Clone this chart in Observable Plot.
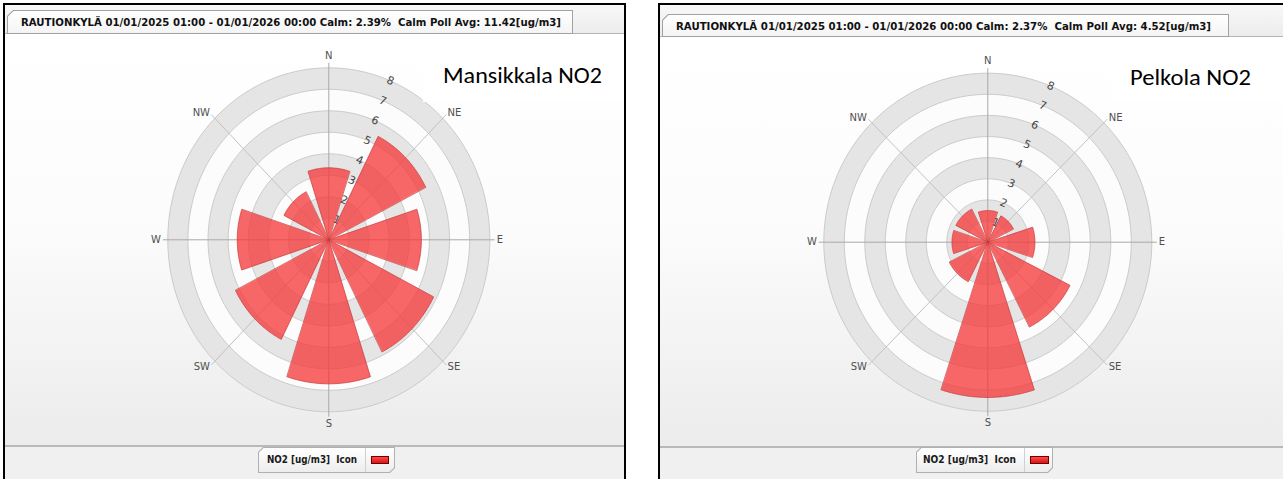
<!DOCTYPE html>
<html><head><meta charset="utf-8">
<script src="https://cdn.jsdelivr.net/npm/d3@7"></script>
<script src="https://cdn.jsdelivr.net/npm/@observablehq/plot@0.6"></script>
<style>
html,body{margin:0;padding:0;background:#fff;}
body{position:relative;width:1283px;height:479px;overflow:hidden;font-family:"Liberation Sans",Arial,sans-serif;}
.abs{position:absolute;box-sizing:border-box;}
.fit{position:absolute;white-space:pre;transform-origin:0 50%;}
</style></head><body>
<script>
// ---------------- data ----------------
const directions = ["N","NE","E","SE","S","SW","W","NW"];
const dirAngles = [0,45,90,135,180,225,270,315];
const mansikkalaNO2 = [3.35, 5.4, 4.6, 5.85, 6.7, 5.2, 4.55, 2.5];
const pelkolaNO2 = [1.5, 1.4, 2.3, 4.5, 7.35, 2.1, 1.75, 1.75];
const ringTicks = [1,2,3,4,5,6,7,8];
const ringTickLabels = ["1","2","3","4","5","6","7","8"];
const titleTexts = [
  "RAUTIONKYLÄ 01/01/2025 01:00 - 01/01/2026 00:00 Calm: 2.39%  Calm Poll Avg: 11.42[ug/m3]",
  "RAUTIONKYLÄ 01/01/2025 01:00 - 01/01/2026 00:00 Calm: 2.37%  Calm Poll Avg: 4.52[ug/m3]"
];
const stationLabels = ["Mansikkala NO2", "Pelkola NO2"];
const legendLabel = "NO2 [ug/m3]  Icon";

// ---------------- layout ----------------
const panels = [
 { values: mansikkalaNO2, title: titleTexts[0], label: stationLabels[0],
   outerL: 3, outerR: 626, tab: [7, 10, 573, 34], titleX: 21, titleW: 540, titleCY: 22.5,
   plotTop: 33, divY: 446, cx: 328.3, cy: 239.3, rx: 161, ry: 172,
   legend: [258, 447, 395, 473], legendTextX: 266.5, legendTextW: 90, legendDiv: 365, icon: [371, 456, 389, 464],
   labelBox: [423, 34, 623, 102], labelX: 443, labelW: 159, labelCY: 76 },
 { values: pelkolaNO2, title: titleTexts[1], label: stationLabels[1],
   outerL: 658, outerR: 1300, tab: [662, 14, 1229, 37], titleX: 676, titleW: 535, titleCY: 26.5,
   plotTop: 36, divY: 447, cx: 987.3, cy: 241.7, rx: 164, ry: 169,
   legend: [916, 447, 1053, 473], legendTextX: 923, legendTextW: 93, legendDiv: 1024, icon: [1029.5, 456, 1049, 464],
   labelBox: [1110, 37, 1283, 102], labelX: 1130, labelW: 121, labelCY: 78 }
];

function addDiv(styles, text) {
  const d = document.createElement("div");
  d.className = "abs";
  Object.assign(d.style, styles);
  if (text != null) d.textContent = text;
  document.body.appendChild(d);
  return d;
}
function bevelPoly(w, h, c, tl, br) {
  const p = [];
  if (tl) p.push(`${c}px 0px`); else p.push("0px 0px");
  p.push(`${w}px 0px`);
  if (br) { p.push(`${w}px ${h - c}px`, `${w - c}px ${h}px`); } else p.push(`${w}px ${h}px`);
  p.push(`0px ${h}px`);
  if (tl) p.push(`0px ${c}px`);
  return `polygon(${p.join(",")})`;
}
function bevelBox(x0, y0, x1, y1, c, tl, br, border, bg) {
  const w = x1 - x0, h = y1 - y0;
  addDiv({left: x0 + "px", top: y0 + "px", width: w + "px", height: h + "px", background: border, clipPath: bevelPoly(w, h, c, tl, br)});
  addDiv({left: (x0 + 1) + "px", top: (y0 + 1) + "px", width: (w - 2) + "px", height: (h - 2) + "px", background: bg, clipPath: bevelPoly(w - 2, h - 2, c - 0.4, tl, br)});
}
function fitText(text, x, cy, targetW, font, color) {
  const s = document.createElement("div");
  s.className = "fit";
  s.textContent = text;
  s.style.font = font;
  s.style.color = color;
  s.style.left = x + "px";
  s.style.lineHeight = "20px";
  s.style.height = "20px";
  s.style.top = (cy - 10) + "px";
  document.body.appendChild(s);
  const w = s.getBoundingClientRect().width;
  s.style.transform = `scaleX(${targetW / w})`;
  return s;
}

function rose(p) {
  const ox = p.outerL + 2, oy = p.plotTop + 1;
  const W = Math.min(p.outerR, 1283) - p.outerL - 4, H = p.divY - 1 - oy;
  const cx = p.cx - ox, cy = p.cy - oy;
  const rMax = d3.max(ringTicks);
  const rad = a => a * Math.PI / 180;
  const pt = (r, a) => ({x: r * Math.sin(rad(a)), y: r * Math.cos(rad(a))});

  const disks = [];
  [...ringTicks].reverse().forEach(t => {
    for (let k = 0; k < 180; k++) {
      const q = pt(t, k * 2);
      disks.push({ring: t, x: q.x, y: q.y, band: t % 2 === 0 ? "#e5e5e5" : "#fcfcfc"});
    }
  });
  const sectors = [];
  p.values.forEach((v, i) => {
    const a = dirAngles[i];
    sectors.push({dir: directions[i], x: 0, y: 0});
    for (let k = 0; k <= 36; k++) {
      const q = pt(v, a - 18 + k);
      sectors.push({dir: directions[i], x: q.x, y: q.y});
    }
  });
  const spokes = directions.map((d, i) => {
    const a = rad(dirAngles[i]);
    return {dir: d, main: i % 2 === 0 ? "#a9a9a9" : "#c2c2c2",
      x2: rMax * (1 + 5 / p.rx) * Math.sin(a), y2: rMax * (1 + 5 / p.ry) * Math.cos(a)};
  });
  const compass = directions.map((d, i) => {
    const a = rad(dirAngles[i]);
    const s = Math.sin(a), c = Math.cos(a);
    const off = Math.abs(s) < 0.1 ? 12 : 7;
    return {text: d, anchor: s > 0.1 ? "start" : s < -0.1 ? "end" : "middle",
      x: rMax * (1 + off / p.rx) * s, y: rMax * (1 + off / p.ry) * c};
  });
  const ringLabels = ringTicks.map((t, i) => ({text: ringTickLabels[i], ...pt(t, 22.5)}));

  const txt = (anchor) => Plot.text(compass.filter(d => d.anchor === anchor), {
    x: "x", y: "y", text: "text", textAnchor: anchor, fontSize: 10, fill: "#505050", fontFamily: "DejaVu Sans"});

  const chart = Plot.plot({
    width: W, height: H, margin: 0,
    x: {domain: [-rMax, rMax], range: [cx - p.rx, cx + p.rx], axis: null},
    y: {domain: [-rMax, rMax], range: [cy + p.ry, cy - p.ry], axis: null},
    color: {type: "identity"},
    style: {background: "transparent", overflow: "visible"},
    marks: [
      Plot.line(disks, {x: "x", y: "y", z: "ring", fill: "band", stroke: "#cbcbcb", strokeWidth: 1, curve: "linear-closed"}),
      Plot.link(spokes, {x1: 0, y1: 0, x2: "x2", y2: "y2", stroke: "main", strokeWidth: 1}),
      Plot.text(ringLabels, {x: "x", y: "y", text: "text", rotate: 22.5, fontSize: 11, fill: "#444", fontFamily: "DejaVu Sans"}),
      Plot.line(sectors, {x: "x", y: "y", z: "dir", fill: "#f63c3c", fillOpacity: 0.78, stroke: "#c63a3a", strokeWidth: 0.7, curve: "linear-closed"}),
      txt("start"), txt("end"), txt("middle")
    ]
  });
  const holder = addDiv({left: ox + "px", top: oy + "px", width: W + "px", height: H + "px"});
  holder.appendChild(chart);
}

panels.forEach(p => {
  const R = p.outerR;
  addDiv({left: p.outerL + "px", top: "3px", width: (R - p.outerL) + "px", height: "490px",
    border: "2px solid #000", borderBottom: "none", background: "#f0f0f0"});
  addDiv({left: (p.outerL + 2) + "px", top: "5px", width: (R - p.outerL - 4) + "px", height: (p.plotTop - 5) + "px",
    background: "linear-gradient(#f8f8f8,#ececec)"});
  addDiv({left: (p.outerL + 2) + "px", top: (p.plotTop + 1) + "px", width: (R - p.outerL - 4) + "px", height: (p.divY - p.plotTop - 2) + "px",
    background: "linear-gradient(to bottom,#ffffff 0%,#fcfcfc 45%,#ececec 100%)"});
  addDiv({left: (p.outerL + 2) + "px", top: p.plotTop + "px", width: (R - p.outerL - 4) + "px", height: "1px", background: "#b4b4b4"});
  bevelBox(p.tab[0], p.tab[1], p.tab[2], p.tab[3], 6, true, false, "#a2a2a2", "linear-gradient(#ffffff,#f4f4f4)");
  fitText(p.title, p.titleX, p.titleCY, p.titleW, "bold 11px 'DejaVu Sans Condensed','DejaVu Sans',sans-serif", "#111");
  rose(p);
  addDiv({left: p.labelBox[0] + "px", top: p.labelBox[1] + "px", width: (p.labelBox[2] - p.labelBox[0]) + "px",
    height: (p.labelBox[3] - p.labelBox[1]) + "px", background: "#fff"});
  fitText(p.label, p.labelX, p.labelCY, p.labelW, "21.5px Carlito,Calibri,'Open Sans',sans-serif", "#000");
  addDiv({left: (p.outerL + 2) + "px", top: (p.divY - 1) + "px", width: (R - p.outerL - 4) + "px", height: "2px", background: "#b9b9b9"});
  bevelBox(p.legend[0], p.legend[1], p.legend[2], p.legend[3], 5, true, true, "#b0b0b0", "linear-gradient(#ffffff,#ededed)");
  fitText(legendLabel, p.legendTextX, (p.legend[1] + p.legend[3]) / 2, p.legendTextW, "bold 11px 'DejaVu Sans Condensed','DejaVu Sans',sans-serif", "#1a1a1a");
  addDiv({left: p.legendDiv + "px", top: (p.legend[1] + 1) + "px", width: "1px", height: (p.legend[3] - p.legend[1] - 2) + "px", background: "#d0d0d0"});
  addDiv({left: p.icon[0] + "px", top: p.icon[1] + "px", width: (p.icon[2] - p.icon[0]) + "px", height: (p.icon[3] - p.icon[1]) + "px",
    background: "linear-gradient(#ff4a4a,#d81414)", border: "1px solid #6e0000"});
});
</script>
</body></html>
